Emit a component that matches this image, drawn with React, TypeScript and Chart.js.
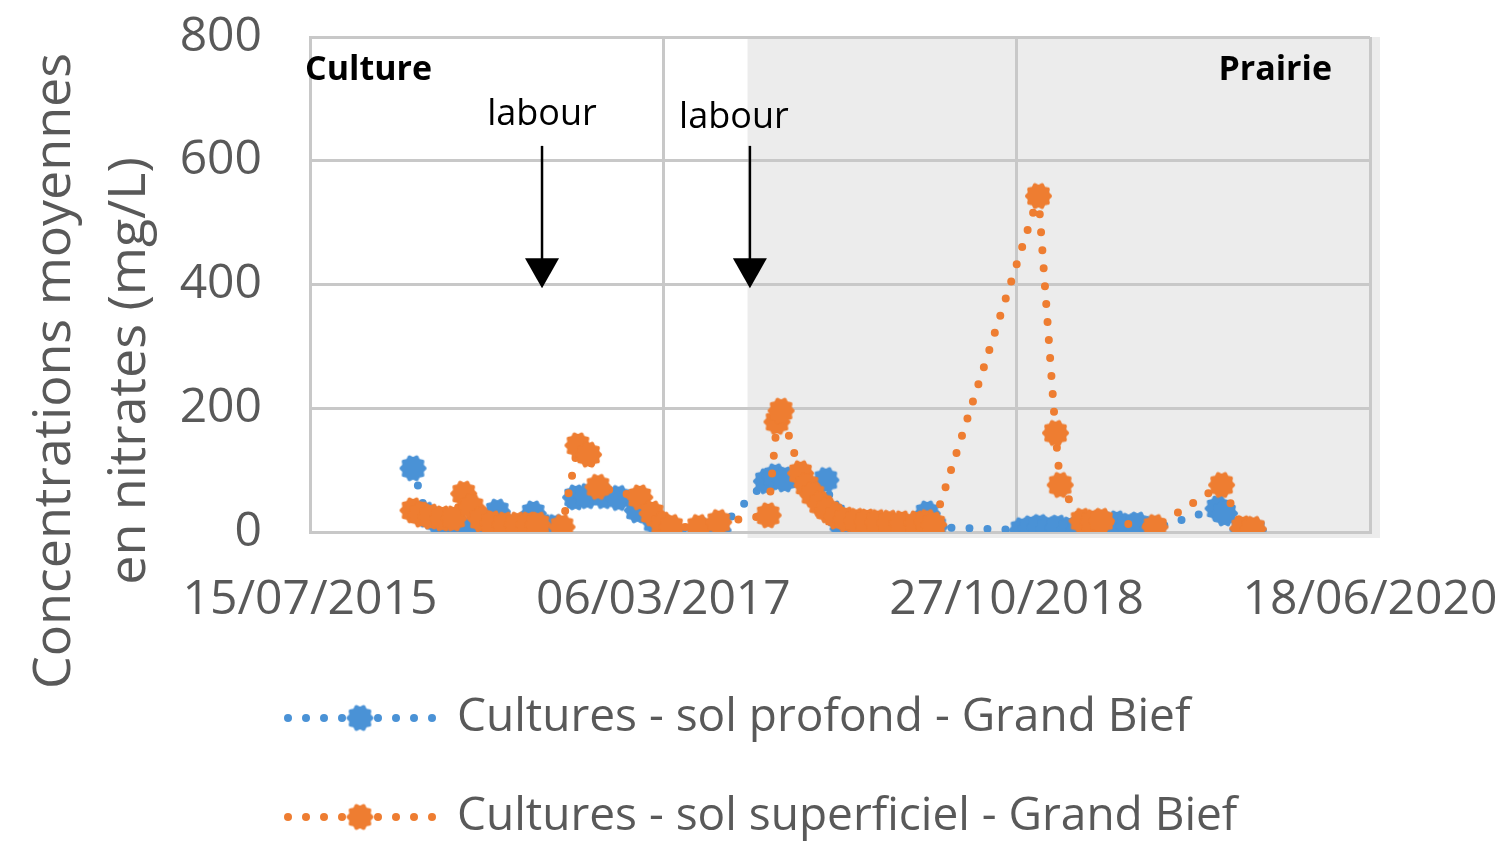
import React, { useEffect, useRef } from "react";
import { Chart, registerables } from "chart.js";

Chart.register(...registerables);

// ---------- data ----------
const xTickDates = ["2015-07-15", "2017-03-06", "2018-10-27", "2020-06-18"];
const yTickValues = [0, 200, 400, 600, 800];

const seriesLabels = [
  "Cultures - sol profond - Grand Bief",
  "Cultures - sol superficiel - Grand Bief",
];

const profondDates = [
  "2016-01-06", "2016-01-28", "2016-02-15", "2016-03-05", "2016-03-25", "2016-04-08",
  "2016-05-10", "2016-05-28", "2016-06-25", "2016-07-28", "2016-08-15", "2016-09-03",
  "2016-10-08", "2016-10-28", "2016-11-25", "2016-12-20", "2017-01-21", "2017-02-20",
  "2017-03-08", "2017-05-08", "2017-06-07", "2017-08-28", "2017-09-12", "2017-09-28",
  "2017-12-07", "2017-12-20", "2018-01-05", "2018-01-25", "2018-02-20", "2018-03-15",
  "2018-04-10", "2018-05-05", "2018-05-28", "2018-06-10", "2018-11-05", "2018-11-20",
  "2018-12-05", "2018-12-20", "2019-01-05", "2019-01-25", "2019-02-10", "2019-03-05",
  "2019-03-25", "2019-04-15", "2019-05-05", "2019-05-20", "2019-06-15", "2019-10-04",
  "2019-10-15", "2019-11-15", "2019-12-03",
];
const profondValues = [
  103, 28, 18, 15, 8, 0,
  8, 33, 8, 30, 8, 8,
  56, 58, 58, 55, 35, 16,
  6, 3, 3, 82, 90, 85,
  84, 30, 5, 2, 2, 3,
  4, 3, 30, 8, 3, 6,
  8, 5, 7, 4, 3, 5,
  12, 14, 10, 12, 5, 38,
  30, 4, 3,
];

const superficielDates = [
  "2016-01-06", "2016-01-20", "2016-02-05", "2016-02-25", "2016-03-15", "2016-04-01",
  "2016-04-15", "2016-05-01", "2016-05-20", "2016-06-10", "2016-07-01", "2016-07-20",
  "2016-08-05", "2016-09-15", "2016-10-12", "2016-10-30", "2016-11-15", "2017-01-25",
  "2017-02-15", "2017-03-05", "2017-03-20", "2017-05-05", "2017-06-08", "2017-08-31",
  "2017-09-15", "2017-09-22", "2017-10-25", "2017-11-05", "2017-11-15", "2017-11-28",
  "2017-12-10", "2017-12-25", "2018-01-10", "2018-01-28", "2018-02-15", "2018-03-05",
  "2018-03-25", "2018-04-15", "2018-05-10", "2018-05-28", "2018-06-08", "2018-12-03",
  "2019-01-01", "2019-01-09", "2019-02-15", "2019-03-05", "2019-03-20", "2019-06-19",
  "2019-10-10", "2019-11-15", "2019-12-03",
];
const superficielValues = [
  35, 28, 25, 22, 22, 62,
  40, 20, 14, 12, 12, 12,
  12, 8, 140, 125, 73, 56,
  30, 12, 8, 8, 16, 27,
  178, 196, 95, 75, 60, 45,
  35, 25, 20, 18, 17, 16,
  15, 14, 14, 16, 12, 543,
  160, 76, 18, 16, 18, 8,
  76, 6, 5,
];

// annotations
const prairieStartDate = "2017-07-27";
const labourDates = ["2016-08-12", "2017-07-31"];
const labourArrowTop = 624;
const labourArrowTip = 394;
const phaseLabels = ["Culture", "Prairie"];
const labourLabel = "labour";
const yTitleLines = ["Concentrations moyennes", "en nitrates (mg/L)"];

// ---------- styles ----------
const BLUE = "#4A92D6";
const ORANGE = "#EE7D31";
const GRID = "#C8C8C8";
const TEXT = "#595959";
const FONT = '"Open Sans", sans-serif';

const day = (s: string) => {
  const [y, m, d] = s.split("-").map(Number);
  return Date.UTC(y, m - 1, d) / 86400000;
};
const fmt = (v: number) => {
  const d = new Date(Math.round(v) * 86400000);
  const p = (n: number) => String(n).padStart(2, "0");
  return `${p(d.getUTCDate())}/${p(d.getUTCMonth() + 1)}/${d.getUTCFullYear()}`;
};

function makeMarker(color: string, r = 13.5): HTMLCanvasElement {
  const size = Math.ceil(2 * r + 4);
  const c = document.createElement("canvas");
  c.width = size;
  c.height = size;
  const ctx = c.getContext("2d")!;
  ctx.fillStyle = color;
  ctx.beginPath();
  const n = 10;
  for (let i = 0; i <= 240; i++) {
    const t = (i / 240) * Math.PI * 2;
    const rr = r - 1.0 + 1.0 * Math.cos(n * t);
    const x = size / 2 + rr * Math.cos(t);
    const y = size / 2 + rr * Math.sin(t);
    if (i === 0) ctx.moveTo(x, y);
    else ctx.lineTo(x, y);
  }
  ctx.closePath();
  ctx.fill();
  return c;
}

export default function App() {
  const ref = useRef<HTMLCanvasElement | null>(null);

  useEffect(() => {
    if (!ref.current) return;
    const blueMarker = makeMarker(BLUE);
    const orangeMarker = makeMarker(ORANGE);
    const xTicks = xTickDates.map(day);

    const decor = {
      id: "decor",
      beforeDraw(chart: any) {
        const { ctx, chartArea, scales } = chart;
        const x0 = scales.x.getPixelForValue(day(prairieStartDate));
        ctx.save();
        ctx.fillStyle = "#ECECEC";
        ctx.fillRect(x0, chartArea.top, chartArea.right + 10 - x0, chartArea.bottom + 6 - chartArea.top);
        ctx.restore();
      },
      afterDraw(chart: any) {
        const { ctx, chartArea, scales } = chart;
        ctx.save();
        // phase labels
        ctx.fillStyle = "#000";
        ctx.font = `bold 34px ${FONT}`;
        ctx.textBaseline = "middle";
        ctx.textAlign = "left";
        ctx.fillText(phaseLabels[0], chartArea.left - 5, 70);
        ctx.textAlign = "right";
        ctx.fillText(phaseLabels[1], chartArea.right - 38, 70);

        // labour arrows
        const labelOffsets = [0, -16];
        labourDates.forEach((d, i) => {
          const x = scales.x.getPixelForValue(day(d));
          const yTop = scales.y.getPixelForValue(labourArrowTop);
          const yTip = scales.y.getPixelForValue(labourArrowTip);
          ctx.strokeStyle = "#000";
          ctx.lineWidth = 2.5;
          ctx.beginPath();
          ctx.moveTo(x, yTop);
          ctx.lineTo(x, yTip - 28);
          ctx.stroke();
          ctx.fillStyle = "#000";
          ctx.beginPath();
          ctx.moveTo(x - 17, yTip - 30);
          ctx.lineTo(x + 17, yTip - 30);
          ctx.lineTo(x, yTip);
          ctx.closePath();
          ctx.fill();
          ctx.font = `36px ${FONT}`;
          ctx.textAlign = "center";
          ctx.textBaseline = "middle";
          ctx.fillText(labourLabel, x + labelOffsets[i], yTop - 31 + i * 3);
        });

        // y-axis title
        ctx.fillStyle = TEXT;
        ctx.font = `52px ${FONT}`;
        ctx.textAlign = "center";
        ctx.textBaseline = "middle";
        const cy = 371;
        [55, 130].forEach((cx, i) => {
          ctx.save();
          ctx.translate(cx, cy);
          ctx.rotate(-Math.PI / 2);
          ctx.fillText(yTitleLines[i], 0, 0);
          ctx.restore();
        });

        // legend
        const markers = [blueMarker, orangeMarker];
        const colors = [BLUE, ORANGE];
        seriesLabels.forEach((label, i) => {
          const y = 718 + i * 99;
          ctx.fillStyle = colors[i];
          for (let k = 0; k < 9; k++) {
            if (k === 4) continue;
            ctx.beginPath();
            ctx.arc(288 + k * 18, y, 4, 0, Math.PI * 2);
            ctx.fill();
          }
          const m = markers[i];
          ctx.drawImage(m, 360 - m.width / 2, y - m.height / 2);
          ctx.fillStyle = TEXT;
          ctx.font = `46px ${FONT}`;
          ctx.textAlign = "left";
          ctx.textBaseline = "middle";
          ctx.fillText(label, 457, y);
        });
        ctx.restore();
      },
    };

    const chart = new Chart(ref.current, {
      type: "line",
      data: {
        datasets: [
          {
            label: seriesLabels[0],
            data: profondDates.map((d, i) => ({ x: day(d), y: profondValues[i] })),
            order: 2,
            borderColor: BLUE,
            backgroundColor: BLUE,
            borderWidth: 8,
            borderDash: [0, 18],
            borderCapStyle: "round",
            pointStyle: blueMarker as any,
            pointRadius: 13,
            tension: 0,
            fill: false,
          },
          {
            label: seriesLabels[1],
            data: superficielDates.map((d, i) => ({ x: day(d), y: superficielValues[i] })),
            order: 1,
            borderColor: ORANGE,
            backgroundColor: ORANGE,
            borderWidth: 8,
            borderDash: [0, 18],
            borderCapStyle: "round",
            pointStyle: orangeMarker as any,
            pointRadius: 13,
            tension: 0,
            fill: false,
          },
        ],
      },
      options: {
        animation: false,
        responsive: false,
        devicePixelRatio: 1,
        layout: { padding: { top: 37, right: 137, bottom: 225, left: 0 } },
        plugins: { legend: { display: false }, tooltip: { enabled: false } },
        scales: {
          x: {
            type: "linear",
            min: xTicks[0],
            max: xTicks[xTicks.length - 1],
            afterBuildTicks: (s: any) => {
              s.ticks = xTicks.map((v) => ({ value: v }));
            },
            afterFit: (s: any) => {
              s.height = 100;
              s.paddingLeft = 0;
              s.paddingRight = 0;
              s.paddingTop = 0;
              s.paddingBottom = 0;
            },
            ticks: {
              callback: (v: any) => fmt(Number(v)),
              font: { family: FONT, size: 48 },
              color: TEXT,
              padding: 40,
              maxRotation: 0,
              autoSkip: false,
            },
            grid: { color: GRID, lineWidth: 3, drawTicks: false },
            border: { color: GRID, width: 3 },
          },
          y: {
            min: 0,
            max: 800,
            afterBuildTicks: (s: any) => {
              s.ticks = yTickValues.map((v) => ({ value: v }));
            },
            afterFit: (s: any) => {
              s.width = 310;
              s.paddingLeft = 0;
              s.paddingRight = 0;
              s.paddingTop = 0;
              s.paddingBottom = 0;
            },
            ticks: {
              font: { family: FONT, size: 48 },
              color: TEXT,
              padding: 48,
            },
            grid: { color: GRID, lineWidth: 3, drawTicks: false },
            border: { color: GRID, width: 3 },
          },
        },
      },
      plugins: [decor],
    } as any);

    return () => chart.destroy();
  }, []);

  return (
    <div style={{ position: "fixed", left: 0, top: 0, width: 1507, height: 857, background: "#fff" }}>
      <canvas ref={ref} width={1507} height={857} style={{ width: 1507, height: 857 }} />
    </div>
  );
}
